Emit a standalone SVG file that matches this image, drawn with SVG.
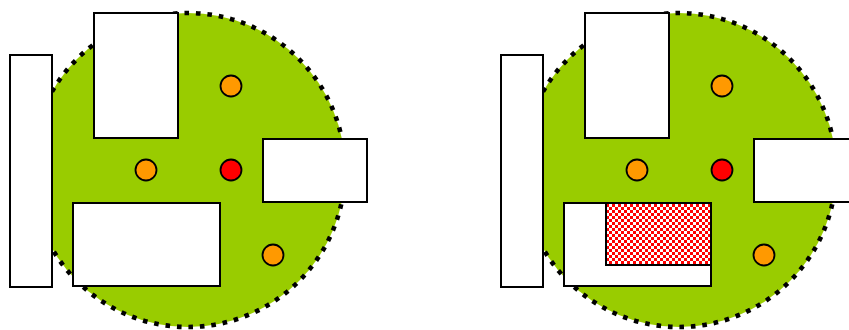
<svg xmlns="http://www.w3.org/2000/svg" width="849" height="330" viewBox="0 0 849 330">
<style>
.disk{fill:#99cc00;stroke:#000;stroke-width:4.6;stroke-dasharray:4.6 6.9}
.box{fill:#fff;stroke:#000;stroke-width:2}
.ob{fill:#ff9900;stroke:#000;stroke-width:1.8}
.rb{fill:#ff0000;stroke:#000;stroke-width:1.8}
.chk{fill:url(#checker);stroke:#000;stroke-width:2}
</style>
<defs>
<pattern id="checker" x="0" y="0" width="6" height="6" patternUnits="userSpaceOnUse">
<rect width="6" height="6" fill="#fff"/>
<rect width="3" height="3" fill="#ff0000"/>
<rect x="3" y="3" width="3" height="3" fill="#ff0000"/>
</pattern>
</defs>
<g id="left">
<circle id="disk1" class="disk" cx="188" cy="170" r="157"/>
<rect id="l-tall" class="box" x="10" y="55" width="42" height="232"/>
<rect id="l-top" class="box" x="94" y="13" width="84" height="125"/>
<rect id="l-right" class="box" x="263" y="139" width="104" height="63"/>
<rect id="l-bottom" class="box" x="73" y="203" width="147" height="83"/>
<circle class="ob" cx="231" cy="86" r="10.5"/>
<circle class="ob" cx="146" cy="170" r="10.5"/>
<circle class="rb" cx="231" cy="170" r="10.5"/>
<circle class="ob" cx="273" cy="255" r="10.5"/>
</g>
<g id="right">
<circle id="disk2" class="disk" cx="679" cy="170" r="157"/>
<rect id="r-tall" class="box" x="501" y="55" width="42" height="232"/>
<rect id="r-top" class="box" x="585" y="13" width="84" height="125"/>
<rect id="r-right" class="box" x="754" y="139" width="104" height="63"/>
<rect id="r-bottom" class="box" x="564" y="203" width="147" height="83"/>
<rect id="r-checker" class="chk" x="606" y="203" width="105" height="62"/>
<circle class="ob" cx="722" cy="86" r="10.5"/>
<circle class="ob" cx="637" cy="170" r="10.5"/>
<circle class="rb" cx="722" cy="170" r="10.5"/>
<circle class="ob" cx="764" cy="255" r="10.5"/>
</g>
</svg>
